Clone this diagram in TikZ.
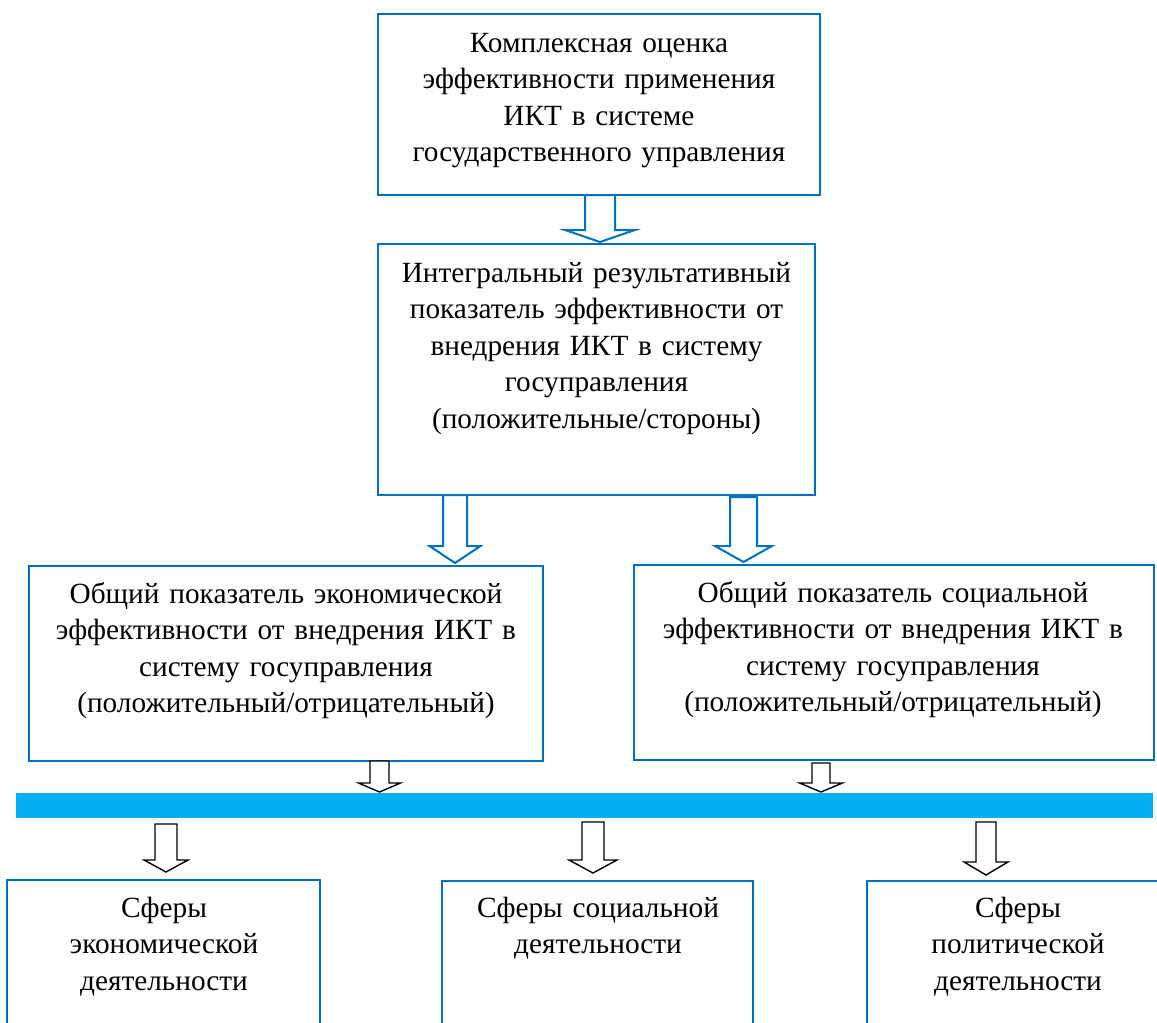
\documentclass[tikz,border=0pt]{standalone}
\usepackage{fontspec}
\setmainfont{Liberation Serif}
\definecolor{boxblue}{RGB}{0,112,192}
\definecolor{barcyan}{RGB}{0,176,240}
\newcommand\blockarrow[7]{%
  \draw[#1] (#2-#6,#3) -- (#2+#6,#3) -- (#2+#6,#4) -- (#2+#7,#4) -- (#2,#5)
    -- (#2-#7,#4) -- (#2-#6,#4) -- cycle;}
\begin{document}
\begin{tikzpicture}[x=1pt,y=-1pt,
  box/.style={draw=boxblue, line width=2pt, rectangle, anchor=north west,
    inner sep=0pt, outer sep=0pt},
  txt/.style={anchor=base, align=center, inner sep=0pt,
    font=\fontsize{29.3}{36.6}\selectfont, text width=#1},
  bluearrow/.style={draw=boxblue, fill=white, line width=2pt, line join=miter},
  blackarrow/.style={draw=black, fill=white, line width=1.4pt, line join=miter}]
\useasboundingbox (0,0) rectangle (1157,1023);
\clip (0,0) rectangle (1157,1023);

% boxes
\node[box, minimum width=442pt, minimum height=181pt] (top) at (378,14) {};
\node[box, minimum width=437pt, minimum height=251pt] (mid) at (378,244) {};
\node[box, minimum width=514pt, minimum height=195pt] (econ) at (29,566) {};
\node[box, minimum width=520pt, minimum height=195pt] (soc) at (634,565) {};
\node[box, minimum width=313pt, minimum height=170pt] (s1) at (7,880) {};
\node[box, minimum width=311pt, minimum height=170pt] (s2) at (442,881) {};
\node[box, minimum width=310pt, minimum height=170pt] (s3) at (867,881) {};
\node[fill=barcyan, draw=none, anchor=north west, inner sep=0pt,
  minimum width=1137pt, minimum height=25pt] (bar) at (16,793) {};

% texts
\node[txt=440pt] (ttop) at (599,52) {Комплексная оценка\\ эффективности применения\\ ИКТ в системе\\ государственного управления};
\node[txt=435pt] (tmid) at (596.5,282) {Интегральный результативный\\ показатель эффективности от\\ внедрения ИКТ в систему\\ госуправления\\ (положительные/стороны)};
\node[txt=510pt] (tecon) at (286,603) {Общий показатель экономической\\ эффективности от внедрения ИКТ в\\ систему госуправления\\ (положительный/отрицательный)};
\node[txt=515pt] (tsoc) at (893,602) {Общий показатель социальной\\ эффективности от внедрения ИКТ в\\ систему госуправления\\ (положительный/отрицательный)};
\node[txt=300pt] (ts1) at (164,917) {Сферы\\ экономической\\ деятельности};
\node[txt=300pt] (ts2) at (598,917) {Сферы социальной\\ деятельности};
\node[txt=300pt] (ts3) at (1018,917) {Сферы\\ политической\\ деятельности};

% block arrows
\blockarrow{bluearrow}{600}{195}{230}{242}{15}{35}
\blockarrow{bluearrow}{455}{495}{546}{563}{12}{25.5}
\blockarrow{bluearrow}{743.5}{497}{546}{562}{13.5}{28.5}
\blockarrow{blackarrow}{379.5}{761}{783}{792}{9.5}{21}
\blockarrow{blackarrow}{821}{763}{783}{792}{9}{21.5}
\blockarrow{blackarrow}{166}{824}{860}{872}{11}{22}
\blockarrow{blackarrow}{593}{822}{860}{873}{11}{24}
\blockarrow{blackarrow}{986}{822}{862}{875}{10}{22}
\end{tikzpicture}
\end{document}
